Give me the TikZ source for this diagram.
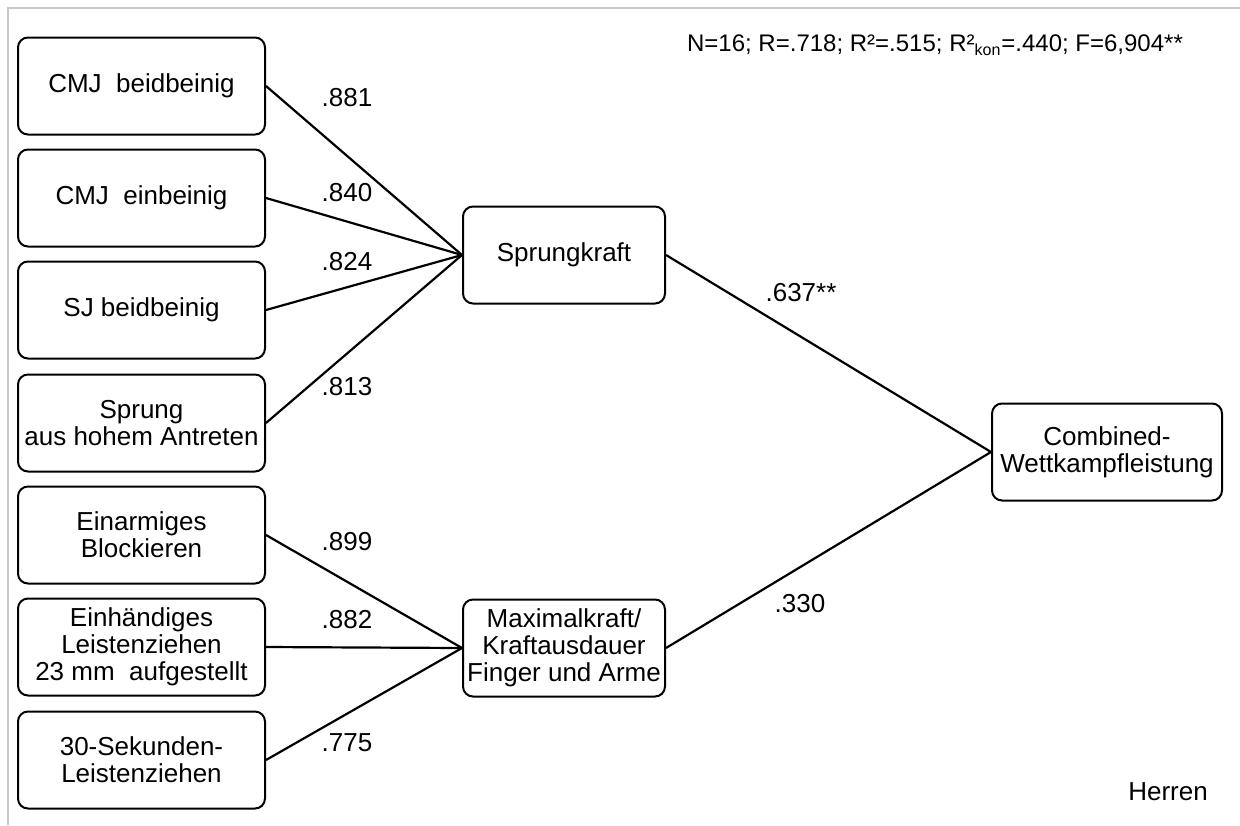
\documentclass[tikz,border=0pt]{standalone}
\usepackage{fontspec}
\setmainfont{Liberation Sans}
\tikzset{
	boxA/.style={
		draw, rounded corners=5pt, line width=1pt, align=center,
		minimum width=123.5pt, minimum height=48.5pt, inner sep=1pt,
		font={\fontsize{13}{13.5}\selectfont}
	},
	boxB/.style={boxA, minimum width=101pt},
	boxC/.style={boxA, minimum width=115pt},
	wt/.style={font={\fontsize{13}{13.5}\selectfont}, inner sep=0pt},
	linkA/.style={line width=1.1pt},
}
\def\xL{141.5}
\def\xM{564}

\begin{document}
\begin{tikzpicture}[x=0.5pt, y=-0.5pt]
\useasboundingbox (0,0) rectangle (1240,825);
\draw [line width=1.2pt, color=black!22] (8,825) -- (8,8) -- (1240,8);
% indicators
\node [boxA] (cmjb) at (\xL,86)  {CMJ\ \ beidbeinig};
\node [boxA] (cmje) at (\xL,198) {CMJ\ \ einbeinig};
\node [boxA] (sjb)  at (\xL,310) {SJ beidbeinig};
\node [boxA] (spr)  at (\xL,423) {Sprung\\aus hohem Antreten};
\node [boxA] (blk)  at (\xL,535) {Einarmiges\\Blockieren};
\node [boxA] (lei)  at (\xL,647) {Einhändiges\\Leistenziehen\\23 mm\ \ aufgestellt};
\node [boxA] (sek)  at (\xL,760) {30-Sekunden-\\Leistenziehen};
% factors
\node [boxB] (sk) at (\xM,255) {Sprungkraft};
\node [boxB] (mk) at (\xM,648) {Maximalkraft/\\Kraftausdauer\\Finger und Arme};
\node [boxC] (cw) at (1107,452) {Combined-\\Wettkampfleistung};
\foreach \a in {cmjb,cmje,sjb,spr} \draw [linkA] (\a.east) -- (sk.west);
\foreach \a in {blk,lei,sek} \draw [linkA] (\a.east) -- (mk.west);
\draw [linkA] (sk.east) -- (cw.west);
\draw [linkA] (mk.east) -- (cw.west);
% loadings
\node [wt] (l1) at (347,98)  {.881};
\node [wt] (l2) at (347,193) {.840};
\node [wt] (l3) at (347,262) {.824};
\node [wt] (l4) at (347,387) {.813};
\node [wt] (l5) at (347,542) {.899};
\node [wt] (l6) at (347,620) {.882};
\node [wt] (l7) at (347,743) {.775};
\node [wt] (b1) at (801,293) {.637**};
\node [wt] (b2) at (800,604) {.330};
\node [wt, font={\fontsize{12}{13}\selectfont}] (stat) at (935,45) {N=16;\ R=.718;\ R²=.515;\ R²\textsubscript{kon}=.440;\ F=6,904**};
\node [wt] (grp) at (1168,792) {Herren};
\end{tikzpicture}
\end{document}
